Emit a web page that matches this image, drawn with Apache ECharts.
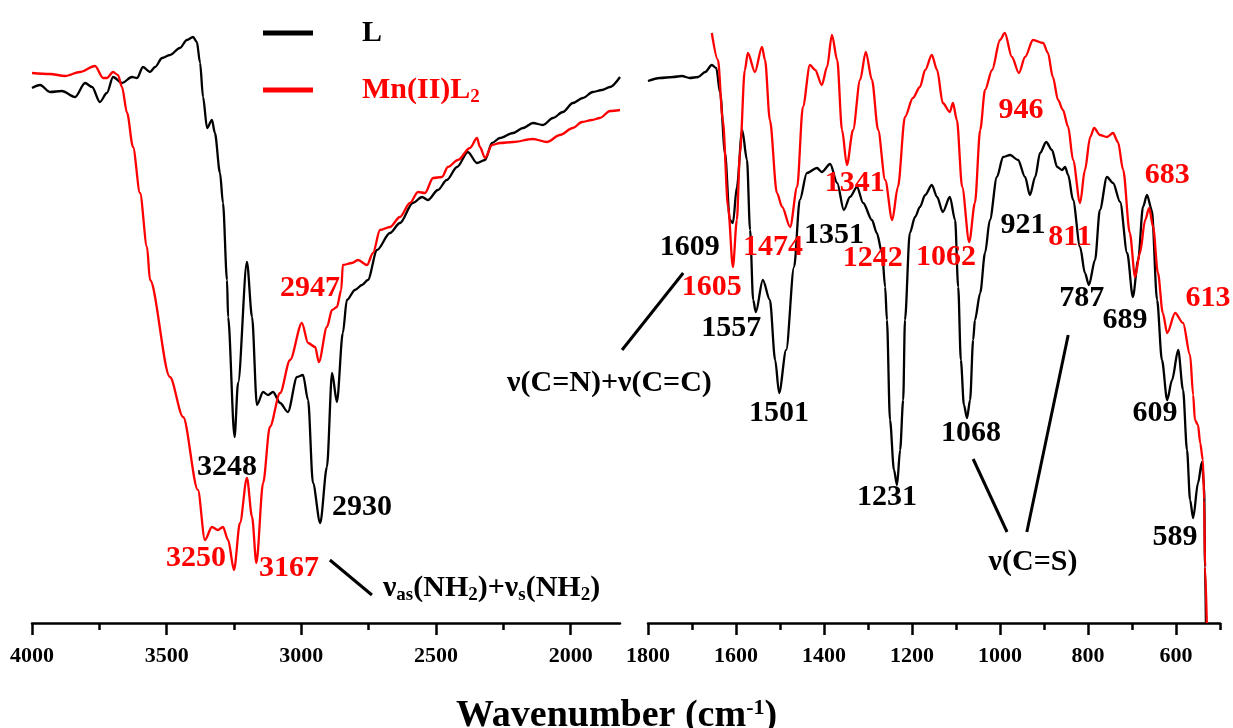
<!DOCTYPE html>
<html><head><meta charset="utf-8">
<script src="https://cdn.jsdelivr.net/npm/echarts@6/dist/echarts.min.js"></script>
<style>html,body{margin:0;padding:0;background:#fff}#c{width:1233px;height:728px}</style>
</head><body><div id="c"></div>
<script>
// ---------- data: [wavenumber (cm-1), transmittance (a.u.)] ----------
const ligandHigh = [[4000,535],[3970,538],[3933,531],[3889,532],[3840,526],[3803,540],[3777,536],[3748,521],[3722,530],[3699,546],[3666,540],[3629,546],[3610,545],[3588,556],[3562,551],[3543,556],[3517,565],[3488,568],[3451,575],[3425,583],[3402,586],[3388,581],[3376,560],[3365,526],[3350,495],[3332,503],[3321,490],[3302,450],[3291,420],[3276,343],[3272,306],[3248,186],[3235,240],[3202,361],[3183,306],[3165,218],[3142,231],[3124,228],[3105,231],[3079,220],[3050,211],[3016,246],[2994,248],[2975,223],[2957,140],[2930,100],[2905,156],[2886,250],[2868,221],[2846,290],[2831,323],[2801,333],[2775,338],[2753,343],[2719,373],[2671,390],[2634,400],[2586,420],[2552,426],[2530,423],[2493,433],[2460,443],[2422,456],[2382,471],[2348,460],[2318,463],[2292,480],[2263,485],[2214,490],[2177,495],[2140,500],[2103,498],[2066,505],[2029,511],[1992,520],[1955,525],[1918,531],[1884,533],[1854,536],[1817,546]];
const complexHigh = [[4000,550],[3933,549],[3877,547],[3822,551],[3766,557],[3736,545],[3722,545],[3699,551],[3681,548],[3666,536],[3647,510],[3625,476],[3599,430],[3573,376],[3562,343],[3488,246],[3439,206],[3384,133],[3358,83],[3332,96],[3310,93],[3291,96],[3272,83],[3250,53],[3228,100],[3202,145],[3183,106],[3167,60],[3142,140],[3117,196],[3079,230],[3042,263],[2998,300],[2975,280],[2949,276],[2935,261],[2905,296],[2886,313],[2868,316],[2852,333],[2846,358],[2812,360],[2790,363],[2756,358],[2734,370],[2708,393],[2671,396],[2634,406],[2597,420],[2567,431],[2541,430],[2511,445],[2478,446],[2456,456],[2419,463],[2374,475],[2348,485],[2337,476],[2318,465],[2292,478],[2263,480],[2214,481],[2140,484],[2088,481],[2040,488],[1992,495],[1958,501],[1921,503],[1892,505],[1854,512],[1817,513]];
const ligandLow = [[1800,542],[1773,545],[1743,546],[1723,547],[1705,545],[1686,546],[1670,551],[1655,558],[1645,555],[1636,530],[1625,470],[1614,403],[1607,400],[1598,436],[1586,493],[1575,463],[1568,393],[1561,323],[1555,311],[1539,343],[1523,323],[1511,263],[1502,230],[1486,273],[1468,356],[1455,423],[1439,450],[1416,455],[1405,451],[1386,459],[1370,440],[1355,413],[1341,426],[1325,436],[1311,420],[1291,403],[1280,390],[1268,370],[1261,336],[1257,303],[1250,203],[1241,153],[1234,138],[1227,173],[1220,223],[1216,303],[1205,390],[1193,406],[1182,416],[1170,428],[1155,438],[1143,426],[1130,411],[1114,426],[1102,403],[1095,336],[1089,263],[1082,218],[1075,205],[1068,223],[1061,283],[1057,303],[1045,330],[1034,370],[1023,403],[1007,446],[993,466],[977,468],[959,463],[943,446],[932,428],[920,446],[909,470],[895,481],[882,473],[870,456],[859,453],[852,456],[845,448],[834,423],[818,376],[807,350],[798,338],[784,363],[773,413],[757,446],[743,440],[727,421],[711,370],[698,326],[686,363],[675,416],[666,428],[655,413],[643,323],[632,263],[620,223],[609,243],[595,273],[584,233],[575,173],[568,123],[561,105],[550,140],[541,161],[536,136],[534,56],[532,0]];
const complexLow = [[1655,590],[1641,563],[1630,503],[1618,416],[1607,356],[1598,403],[1591,470],[1580,553],[1573,570],[1557,551],[1541,576],[1534,563],[1523,503],[1507,430],[1495,416],[1477,396],[1461,436],[1448,516],[1432,558],[1420,553],[1405,538],[1393,556],[1382,588],[1370,563],[1359,493],[1348,458],[1334,493],[1318,543],[1305,571],[1291,543],[1277,493],[1261,443],[1245,403],[1232,436],[1216,506],[1198,525],[1182,536],[1170,553],[1155,568],[1143,553],[1130,520],[1114,511],[1107,520],[1098,503],[1086,436],[1070,381],[1057,420],[1045,493],[1034,533],[1018,553],[1000,583],[989,590],[973,566],[957,550],[943,566],[925,583],[902,580],[891,570],[880,546],[868,523],[857,513],[845,496],[834,463],[818,420],[807,453],[795,486],[786,495],[773,488],[757,486],[743,490],[732,481],[720,453],[705,390],[693,346],[682,370],[670,403],[661,415],[652,396],[641,350],[630,310],[620,290],[602,310],[584,300],[568,268],[561,228],[557,203],[550,198],[545,180],[539,163],[536,123],[534,56],[530,0]];
const majorTicksHigh = [4000,3500,3000,2500,2000];
const minorTicksHigh = [3750,3250,2750,2250];
const majorTicksLow = [1800,1600,1400,1200,1000,800,600];
const minorTicksLow = [1700,1500,1300,1100,900,700,500];
const seriesNames = ['L','Mn(II)L2'];
// peak annotations: [panel, wavenumber, level, text, colour key, align]
const peakNotes = [
 [0,2968,335,'2947','r','center'],[0,3276,156,'3248','k','center'],[0,2775,116,'2930','k','center'],
 [0,3391,65,'3250','r','center'],[0,3046,55,'3167','r','center'],
 [1,1705,376,'1609','k','center'],[1,1655,336,'1605','r','center'],[1,1611,295,'1557','k','center'],
 [1,1516,376,'1474','r','center'],[1,1377,388,'1351','k','center'],[1,1330,440,'1341','r','center'],
 [1,1289,365,'1242','r','center'],[1,1123,366,'1062','r','center'],[1,1502,210,'1501','k','center'],
 [1,1257,126,'1231','k','center'],[1,1066,190,'1068','k','center'],[1,952,513,'946','r','center'],
 [1,948,398,'921','k','center'],[1,841,386,'811','r','center'],[1,814,325,'787','k','center'],
 [1,716,303,'689','k','center'],[1,620,448,'683','r','center'],[1,527,325,'613','r','center'],
 [1,648,210,'609','k','center'],[1,602,86,'589','k','center']
];
const bandNotes = [
 [0,2697,35,'{m|ν}{s|as}{m|(NH}{s|2}{m|)+ν}{s|s}{m|(NH}{s|2}{m|)}','left'],
 [1,1655,240,'{m|ν(C=N)+ν(C=C)}','right'],
 [1,925,61,'{m|ν(C=S)}','center']
];
const leaderLines = [
 [0,2894,63,2738,28],
 [1,1720,350,1859,273],
 [1,1061,164,984,91],
 [1,845,288,939,91]
];

const FONT = '"Liberation Serif","Times New Roman",serif';
const COLORS = {k:'#000000', r:'#ff0000'};
const chart = echarts.init(document.getElementById('c'));

function majorAxis(g, min, max, ticks){
  return {type:'value', gridIndex:g, position:'bottom', inverse:true, min:min, max:max,
    axisLine:{show:true, onZero:false, lineStyle:{color:'#000', width:2.5}},
    axisTick:{show:true, customValues:ticks, length:12, lineStyle:{color:'#000', width:2.5}},
    axisLabel:{show:true, customValues:ticks, margin:22, color:'#000', fontFamily:FONT, fontWeight:'bold', fontSize:22,
      formatter:function(v){ return String(v); }},
    splitLine:{show:false}};
}
function minorAxis(g, min, max, ticks){
  return {type:'value', gridIndex:g, position:'bottom', inverse:true, min:min, max:max,
    axisLine:{show:false, onZero:false},
    axisTick:{show:true, customValues:ticks, length:7, lineStyle:{color:'#000', width:2.5}},
    axisLabel:{show:false}, splitLine:{show:false}};
}
function line(name, data, xi, yi, color, z){
  return {type:'line', name:name, data:data, xAxisIndex:xi, yAxisIndex:yi, symbol:'none',
    smooth:0.3, smoothMonotone:'x', lineStyle:{color:color, width:2.3}, itemStyle:{color:color}, z:z};
}

chart.setOption({
  animation:false,
  backgroundColor:'#fff',
  grid:[
    {left:32, top:23, width:588, height:600, outerBoundsMode:'none'},
    {left:648, top:23, width:572, height:600, outerBoundsMode:'none'}
  ],
  xAxis:[
    majorAxis(0,1817,4000,majorTicksHigh), minorAxis(0,1817,4000,minorTicksHigh),
    majorAxis(1,500,1800,majorTicksLow), minorAxis(1,500,1800,minorTicksLow)
  ],
  yAxis:[
    {type:'value', gridIndex:0, min:0, max:600, show:false},
    {type:'value', gridIndex:1, min:0, max:600, show:false}
  ],
  legend:{
    data:seriesNames, left:258, top:13, orient:'vertical', selectedMode:false, icon:'rect',
    itemWidth:50, itemHeight:5, itemGap:27,
    formatter:function(n){ return n==='L' ? '{sp|}{k|L}' : '{sp|}{r|Mn(II)L}{rs|2}'; },
    textStyle:{fontFamily:FONT, fontWeight:'bold', fontSize:30, rich:{
      sp:{width:44},
      k:{color:'#000', fontFamily:FONT, fontWeight:'bold', fontSize:30, lineHeight:34},
      r:{color:'#ff0000', fontFamily:FONT, fontWeight:'bold', fontSize:30, lineHeight:34},
      rs:{color:'#ff0000', fontFamily:FONT, fontWeight:'bold', fontSize:19, lineHeight:18, verticalAlign:'bottom'}
    }}
  },
  series:[
    line(seriesNames[0], ligandHigh, 0, 0, COLORS.k, 2),
    line(seriesNames[1], complexHigh, 0, 0, COLORS.r, 3),
    line(seriesNames[0], ligandLow, 2, 1, COLORS.k, 2),
    line(seriesNames[1], complexLow, 2, 1, COLORS.r, 3)
  ]
});

function px(panel, wn, v){
  return chart.convertToPixel({xAxisIndex: panel===0?0:2, yAxisIndex: panel}, [wn, v]);
}
const richM = {
  m:{fontSize:30, fontWeight:'bold', fontFamily:FONT, fill:'#000', lineHeight:34},
  s:{fontSize:19, fontWeight:'bold', fontFamily:FONT, fill:'#000', lineHeight:18, verticalAlign:'bottom'}
};
const graphics = [];
peakNotes.forEach(function(a){
  const p = px(a[0], a[1], a[2]);
  graphics.push({type:'text', x:p[0], y:p[1], z:10, style:{text:a[3], fill:COLORS[a[4]],
    font:'bold 30px ' + FONT, align:a[5], verticalAlign:'middle'}});
});
bandNotes.forEach(function(a){
  const p = px(a[0], a[1], a[2]);
  graphics.push({type:'text', x:p[0], y:p[1], z:10, style:{text:a[3], rich:richM,
    font:'bold 30px ' + FONT, fill:'#000', align:a[4], verticalAlign:'middle'}});
});
leaderLines.forEach(function(a){
  const p1 = px(a[0], a[1], a[2]), p2 = px(a[0], a[3], a[4]);
  graphics.push({type:'line', z:10, shape:{x1:p1[0], y1:p1[1], x2:p2[0], y2:p2[1]},
    style:{stroke:'#000', lineWidth:3}});
});
graphics.push({type:'text', left:'center', top:697, z:10, style:{
  text:'{a|Wavenumber (cm}{s|-1}{a|)}', fill:'#000', font:'bold 38px ' + FONT,
  rich:{a:{fontSize:38, fontWeight:'bold', fontFamily:FONT, fill:'#000', lineHeight:38},
        s:{fontSize:22, fontWeight:'bold', fontFamily:FONT, fill:'#000', lineHeight:22, verticalAlign:'top'}}
}});
chart.setOption({graphic:graphics});
</script></body></html>
